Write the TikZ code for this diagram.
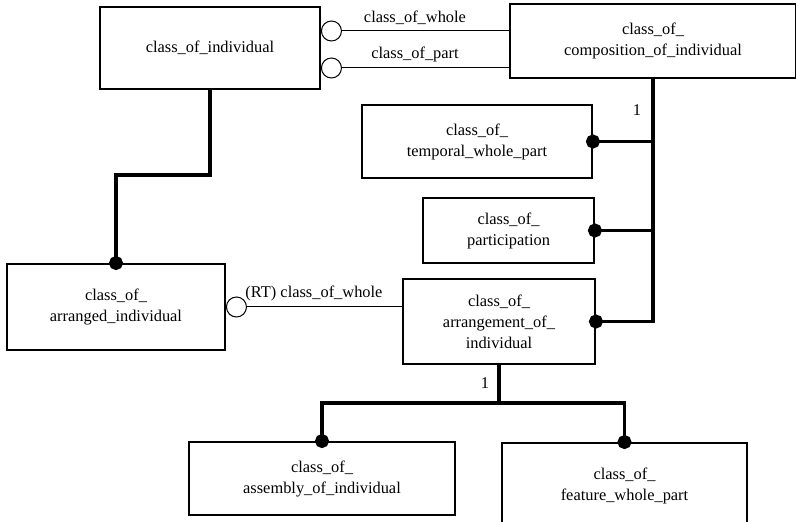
\documentclass[tikz,border=0pt]{standalone}
\usepackage{fontspec}
\setmainfont{Liberation Serif}
\usetikzlibrary{arrows.meta,positioning}

\begin{document}
\begin{tikzpicture}[
  x=1pt, y=1pt,
  entity/.style={rectangle, draw=black, line width=1.9pt, fill=white,
                 align=center, inner sep=0pt,
                 font=\fontsize{16.4}{21}\selectfont},
  link/.style={line width=3.2pt, black},
  dot/.style={-{Circle[length=14pt]}, shorten >=-7pt},
  assoc/.style={{Circle[open,length=21pt]}-, line width=1pt},
  role/.style={font=\fontsize{16.4}{21}\selectfont, inner sep=2pt}
]
\useasboundingbox (0,0) rectangle (796,522);

\node[entity, minimum width=220pt, minimum height=82pt] (indiv) at (210,474) {class\_of\_individual};
\node[entity, minimum width=286pt, minimum height=74pt] (compo) at (653,481) {class\_of\_\\composition\_of\_individual};
\node[entity, minimum width=230pt, minimum height=73pt] (temporal) at (477,380.5) {class\_of\_\\temporal\_whole\_part};
\node[entity, minimum width=171pt, minimum height=65pt] (partic) at (508.5,291.5) {class\_of\_\\participation};
\node[entity, minimum width=192pt, minimum height=85pt] (arrgmt) at (499,200.5) {class\_of\_\\arrangement\_of\_\\individual};
\node[entity, minimum width=218pt, minimum height=86pt] (arranged) at (116,215) {class\_of\_\\arranged\_individual};
\node[entity, minimum width=266pt, minimum height=73pt] (assembly) at (322,43.5) {class\_of\_\\assembly\_of\_individual};
\node[entity, minimum width=245pt, minimum height=86pt] (feature) at (624.5,36) {class\_of\_\\feature\_whole\_part};

\draw[assoc] ([yshift=17pt]indiv.east) -- ([yshift=17pt]indiv.east -| compo.west)
  node[role, midway, above=4pt] (whole) {class\_of\_whole};
\draw[assoc] ([yshift=-20pt]indiv.east) -- ([yshift=-20pt]indiv.east -| compo.west)
  node[role, midway, above=4pt] (part) {class\_of\_part};
\draw[assoc] (arranged.east) -- (arranged.east -| arrgmt.west)
  node[role, midway, above=4pt] (rtwhole) {(RT) class\_of\_whole};

\draw[link, dot] (indiv.south) -- ++(0,-85) -| (arranged.north);

\draw[link, dot] (compo.south) |- (arrgmt.east);
\draw[link, dot] (temporal.east -| compo.south) -- (temporal.east);
\draw[link, dot] (partic.east -| compo.south) -- (partic.east);
\node[role] (cardtop) at (637,412) {1};

\draw[link] (arrgmt.south) -- ++(0,-38) coordinate (fork);
\draw[link, dot] (fork) -| (assembly.north);
\draw[link, dot] (fork) -| (feature.north);
\node[role] (cardbot) at (485,139) {1};
\end{tikzpicture}
\end{document}
